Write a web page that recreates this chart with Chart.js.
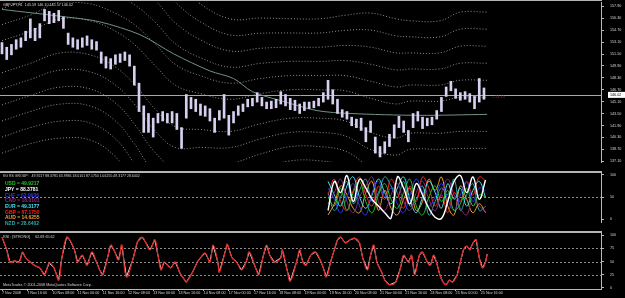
<!DOCTYPE html>
<html><head><meta charset="utf-8">
<script src="https://cdn.jsdelivr.net/npm/chart.js@4.4.0/dist/chart.umd.min.js"></script>
<style>
html,body{margin:0;padding:0;background:#000;width:625px;height:298px;overflow:hidden;}
canvas{position:absolute;left:0;}
#c1{top:0;} #c2{top:173px;} #c3{top:233px;}
.sep{position:absolute;left:0;width:602px;background:#b4b4b4;z-index:5;}
</style></head><body>
<canvas id="c1" width="625" height="172"></canvas>
<canvas id="c2" width="625" height="58"></canvas>
<canvas id="c3" width="625" height="65"></canvas>
<div class="sep" style="top:0;height:1px"></div>
<div class="sep" style="top:171px;height:2px"></div>
<div class="sep" style="top:231px;height:2px"></div>
<script>
// ---------- DATA ----------
const symbolHeader = "GBPJPY,H1  145.59 146.10 145.57 146.02";
const timeHours = [0,16,32,48,64,80,96,112,128,144,160,176,192,208,224,240,256,272,288,304];
const timeLabels = ["7 Nov 2008","7 Nov 16:00","10 Nov 08:00","11 Nov 00:00","11 Nov 16:00","12 Nov 08:00","13 Nov 00:00","13 Nov 16:00","14 Nov 08:00","17 Nov 00:00","17 Nov 16:00","18 Nov 08:00","19 Nov 00:00","19 Nov 16:00","20 Nov 08:00","21 Nov 00:00","21 Nov 16:00","24 Nov 08:00","25 Nov 00:00","25 Nov 16:00"];
const priceTicks = [137.10,138.70,140.30,141.90,143.50,145.10,146.70,148.30,149.90,151.50,153.10,154.70,156.30,157.90];
const bidPrice = 146.02;
const bidNote = "-- 51.15";

const candleHours = [0,3,6,9,12,15,18,21,24,27,30,33,36,39,42,45,48,51,54,57,60,63,66,69,72,75,78,81,84,87,90,93,96,99,102,105,108,111,114,117,120,123,126,129,132,135,138,141,144,147,150,153,156,159,162,165,168,171,174,177,180,183,186,189,192,195,198,201,204,207,210,213,216,219,222,225,228,231,234,237,240,243,246,249,252,255,258,261,264,267,270,273,276,279,282,285,288,291,294,297,300,303,306];
const highs = [153.05,152.42,152.80,153.43,153.68,154.57,156.23,154.96,155.59,157.50,157.24,156.99,157.37,156.48,154.32,153.68,153.43,153.68,153.94,153.43,153.18,151.78,151.15,150.89,151.40,151.53,151.78,151.40,149.88,147.59,144.54,143.52,142.89,143.52,143.78,143.52,143.78,143.52,141.62,146.07,145.68,145.43,144.79,144.54,144.16,142.89,143.91,146.07,143.27,143.78,144.54,144.79,145.43,145.56,146.32,145.68,145.05,145.18,145.43,146.45,146.07,145.56,145.30,144.79,145.05,145.05,145.18,145.56,146.32,147.97,146.70,145.43,144.03,143.78,143.02,142.76,142.89,141.62,142.51,140.35,139.08,139.72,140.73,142.00,143.14,142.51,141.24,143.52,143.78,143.02,142.89,143.02,143.91,145.68,147.08,147.84,146.83,146.32,146.45,146.19,145.81,148.22,146.95];
const lows = [151.53,150.77,151.40,152.16,152.42,153.30,153.68,153.30,153.68,155.97,155.59,155.72,155.97,154.96,152.80,152.42,152.16,152.42,152.67,152.16,152.03,150.26,149.62,149.49,150.13,150.38,150.64,149.88,147.33,143.78,140.98,140.98,140.35,142.25,142.51,142.25,142.25,141.37,138.83,142.89,144.16,143.78,143.27,143.14,142.51,140.98,142.64,142.89,140.61,142.25,143.27,143.78,144.41,144.54,145.05,144.54,144.16,144.16,144.29,144.79,144.54,144.03,143.91,143.52,143.91,144.16,144.29,144.54,145.05,145.43,144.79,143.52,143.02,142.76,141.87,141.62,141.24,139.72,140.98,138.19,137.68,138.19,139.08,140.22,141.62,140.98,139.72,141.62,142.51,141.49,141.87,142.00,142.76,143.78,145.81,146.57,145.56,145.30,145.43,145.05,144.16,145.05,145.43];

const maHours = [0,41,62,88,109,132,147,159,178,200,221,265,308];
const maValues = [157.50,156.48,155.84,154.07,151.53,149.24,148.22,146.45,145.18,143.91,143.52,143.27,143.40];

const bandHours = [0,18,37,56,72,84,97,110,126,145,164,183,202,218,234,250,259,278,291,308];
const bandMid = [151.15,152.42,153.94,153.68,152.16,150.13,147.08,144.54,143.78,143.27,144.16,144.79,144.79,144.54,143.27,142.51,143.02,143.02,143.40,143.40];
const bandDev = [2.16,2.16,2.29,2.29,2.41,2.67,2.92,2.79,2.41,2.16,2.03,1.91,1.91,2.03,2.29,2.29,2.16,2.16,2.29,2.29];
const bandLevels = [1,2,3,4,5,6];

const rsHeader = "KG RS GROUP:   49.9217 88.3781 63.9936 18.0101 87.1750 14.6255 49.3177 28.6402";
const currencies = ["USD","JPY","CHF","CAD","EUR","GBP","AUD","NZD"];
const currencyValues = [49.9217,88.3781,63.9936,18.0101,49.3177,87.1750,14.6255,28.6402];
const currencyColors = ["#22c022","#ffffff","#2a3cf0","#8a2a80","#45e0f0","#ff2020","#f0a030","#30a8a8"];
const rsHours = [207,211,215,219,223,227,231,235,239,243,247,251,255,259,263,267,271,275,279,283,287,291,295,299,303,307];
const rsUSD = [50,30,70,20,60,85,40,15,55,80,45,25,60,90,30,10,50,75,40,65,20,35,70,30,55,50];
const rsJPY = [20,85,60,98,40,90,70,45,30,15,3,95,70,35,80,55,25,5,2,40,85,98,60,95,45,88];
const rsCHF = [70,45,15,50,80,30,10,60,85,50,70,35,15,55,90,60,30,50,80,45,20,55,85,40,70,64];
const rsCAD = [35,60,90,40,15,50,75,95,40,20,55,80,40,20,60,85,45,20,60,90,55,25,10,50,30,18];
const rsEUR = [85,55,30,75,95,50,25,55,90,60,35,70,95,45,15,50,85,60,25,80,45,70,30,65,85,49];
const rsGBP = [55,90,40,20,65,95,55,30,75,45,90,60,25,75,40,95,70,30,55,15,60,40,85,55,95,87];
const rsAUD = [10,35,75,55,25,15,60,85,20,65,25,10,45,70,20,40,90,65,95,30,10,75,45,15,35,15];
const rsNZD = [60,20,50,85,35,65,90,40,60,95,75,50,85,30,45,75,10,40,70,55,90,20,55,80,20,29];
const rsSeries = [rsUSD,rsJPY,rsCHF,rsCAD,rsEUR,rsGBP,rsAUD,rsNZD];

const rsiHeader = "RSI : [STRONG]     62.69 65.62";
const copyright = "MetaTrader, \u00A9 2001-2008 MetaQuotes Software Corp.";
const rsiHours = [0,3,5,8,11,13,15,18,21,24,27,30,33,36,38,41,43,46,48,51,54,57,60,62,64,67,69,71,74,76,79,83,86,89,91,94,97,99,101,103,107,110,113,116,117,121,124,126,129,132,134,137,138,142,143,146,149,152,155,157,161,163,166,168,170,173,177,178,181,183,187,189,191,193,196,199,202,204,206,209,211,213,215,218,221,224,227,229,232,234,236,238,241,243,246,250,253,255,258,260,262,265,267,270,272,274,276,278,280,282,284,286,289,291,293,295,297,299,301,303,305,307,308];
const rsiValues = [96,72,49,51,49,68,57,49,42,38,25,47,38,15,57,96,91,72,49,62,43,68,49,34,25,57,81,72,53,81,21,53,87,96,87,72,91,62,34,49,38,49,28,15,11,30,49,57,66,49,81,49,30,72,83,57,49,34,49,68,38,25,62,81,62,49,57,72,34,13,49,72,49,43,62,68,53,38,21,53,72,91,96,85,91,94,85,57,34,62,81,49,30,15,6,11,38,62,49,62,25,62,68,49,43,62,47,25,11,6,15,11,25,49,72,79,72,85,91,57,38,49,64];

// ---------- COMMON ----------
const FONT = "'Liberation Sans', Arial, sans-serif";
const AXIS_COL = '#b8b8b8';
const TXT_COL = '#d4d4d4';
const X_MIN = -1.27, X_MAX = 380.3;

function xScale(show){
  return {
    type:'linear', min:X_MIN, max:X_MAX, offset:false, display:show,
    grid:{display:show, drawOnChartArea:false, color:AXIS_COL, tickLength:2},
    border:{display:show, color:AXIS_COL},
    afterBuildTicks: s => { s.ticks = timeHours.map(v=>({value:v})); },
    ticks:{autoSkip:false, maxRotation:0, minRotation:0, align:'start', padding:0, color:TXT_COL,
      font:{size:3.7, family:FONT}, callback:(v,i)=>timeLabels[i]},
    afterFit: s => { s.height = 9; s.paddingLeft=0; s.paddingRight=0; }
  };
}
function yScale(min,max,ticks,fmt){
  return {
    position:'right', min:min, max:max,
    afterBuildTicks: s => { s.ticks = ticks.map(v=>({value:v})); },
    ticks:{autoSkip:false, color:TXT_COL, padding:6, font:{size:3.7, family:FONT}, callback: fmt},
    grid:{drawOnChartArea:false, tickLength:3, color:AXIS_COL},
    border:{color:AXIS_COL},
    afterFit: s => { s.width = 24; s.paddingTop=0; s.paddingBottom=0; }
  };
}
function levelsPlugin(levels){
  return {id:'levels', beforeDatasetsDraw(chart){
    const c=chart.ctx, y=chart.scales.y, a=chart.chartArea;
    c.save(); c.strokeStyle='#8c8c8c'; c.lineWidth=1; c.setLineDash([2,2]);
    levels.forEach(l=>{ const p=Math.round(y.getPixelForValue(l))+0.5;
      c.beginPath(); c.moveTo(a.left,p); c.lineTo(a.right,p); c.stroke(); });
    c.restore();
  }};
}
const baseOpts = {responsive:false, animation:false, events:[],
  plugins:{legend:{display:false}, tooltip:{enabled:false}}};

// ---------- MAIN PRICE PANEL ----------
const mainDatasets = [];
bandLevels.forEach(k=>{
  [1,-1].forEach(sg=>{
    mainDatasets.push({type:'line', order:3,
      data: bandHours.map((h,i)=>({x:h, y: bandMid[i] + sg*k*bandDev[i]})),
      borderColor:'#909090', borderWidth:1, borderDash:[1,2], pointRadius:0, tension:0.4, fill:false});
  });
});
mainDatasets.push({type:'line', order:2, data: maHours.map((h,i)=>({x:h,y:maValues[i]})),
  borderColor:'#6f928a', borderWidth:1, pointRadius:0, tension:0.3, fill:false});
mainDatasets.push({type:'bar', order:0, data: candleHours.map((h,i)=>({x:h, y:[lows[i],highs[i]]})),
  backgroundColor:'#d8d0f0', borderWidth:0, barThickness:2});

new Chart(document.getElementById('c1'), {
  type:'bar',
  data:{datasets:mainDatasets},
  options:Object.assign({}, baseOpts, {
    layout:{padding:{top:2,bottom:1,left:0,right:0}},
    scales:{ x:xScale(false), y:yScale(137.0,158.5,priceTicks,v=>Number(v).toFixed(2)) }
  }),
  plugins:[{id:'mainText',
    beforeDatasetsDraw(chart){
      const c=chart.ctx, y=chart.scales.y, a=chart.chartArea;
      const p=Math.round(y.getPixelForValue(bidPrice))+0.5;
      c.save(); c.strokeStyle='#a8a8a8'; c.lineWidth=1;
      c.beginPath(); c.moveTo(a.left,p); c.lineTo(a.right,p); c.stroke(); c.restore();
    },
    afterDraw(chart){
      const c=chart.ctx, y=chart.scales.y, x=chart.scales.x, a=chart.chartArea;
      const p=y.getPixelForValue(bidPrice);
      c.save();
      c.font="3.7px "+FONT; c.textBaseline='middle';
      c.fillStyle='#ffffff'; c.fillRect(a.right+7, p-3, 17, 6);
      c.fillStyle='#000'; c.fillText(bidPrice.toFixed(2), a.right+9, p);
      c.fillStyle=TXT_COL; c.fillText(symbolHeader, 3, 5);
      c.fillStyle='#c02020';
      c.fillText(bidNote, x.getPixelForValue(candleHours[candleHours.length-1])+8, p+2.5);
      c.restore();
    }}]
});

// ---------- CURRENCY STRENGTH PANEL ----------
const rsDatasets = rsSeries.map((s,j)=>({type:'line', data: rsHours.map((h,i)=>({x:h,y:s[i]})),
  borderColor:currencyColors[j], borderWidth: j===1?1.4:1, pointRadius:0, tension:0.4, fill:false, order: j===1?0:1}));
new Chart(document.getElementById('c2'), {
  type:'line',
  data:{datasets:rsDatasets},
  options:Object.assign({}, baseOpts, {
    layout:{padding:0},
    scales:{ x:xScale(false), y:yScale(-5.7,103.8,[0,50,100],v=>String(v)) }
  }),
  plugins:[levelsPlugin([50]), {id:'rsText', afterDraw(chart){
    const c=chart.ctx; c.save(); c.textBaseline='middle';
    c.font="3.5px "+FONT; c.fillStyle=TXT_COL; c.fillText(rsHeader, 3, 3.5);
    c.font="bold 5px "+FONT;
    const ys=[11,17,23,28,34,40,45,51];
    currencies.forEach((cur,i)=>{ c.fillStyle=currencyColors[i];
      c.fillText(cur+" = "+currencyValues[i].toFixed(4), 5, ys[i]); });
    c.restore();
  }}]
});

// ---------- RSI PANEL ----------
new Chart(document.getElementById('c3'), {
  type:'line',
  data:{datasets:[
    {data: rsiHours.map((h,i)=>({x:h,y:rsiValues[i]})), borderColor:'#e8e8e8', borderWidth:1, pointRadius:0, tension:0, fill:false, order:1},
    {data: rsiHours.map((h,i)=>({x:h,y:rsiValues[i]})), borderColor:'#e02424', borderWidth:1.2, pointRadius:0, tension:0.45, fill:false, order:0}
  ]},
  options:Object.assign({}, baseOpts, {
    layout:{padding:0},
    scales:{ x:xScale(true), y:yScale(-1.9,103.8,[0,25,50,75,100],v=>String(v)) }
  }),
  plugins:[levelsPlugin([25,50,75]), {id:'rsiText', afterDraw(chart){
    const c=chart.ctx; c.save(); c.textBaseline='middle';
    c.font="3.7px "+FONT; c.fillStyle=TXT_COL;
    c.fillText(rsiHeader, 3, 3.5);
    c.fillText(copyright, 3, 52);
    c.restore();
  }}]
});
</script>
</body></html>
